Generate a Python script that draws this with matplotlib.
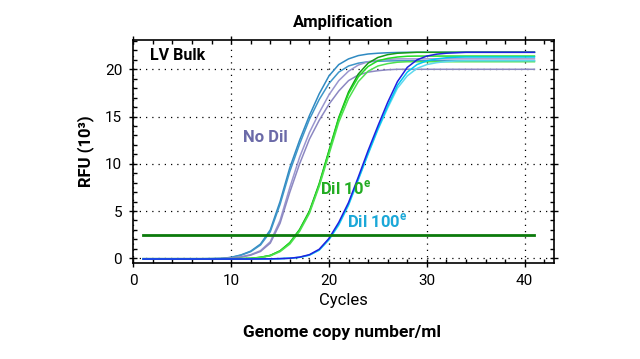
import matplotlib
matplotlib.use("Agg")
import matplotlib.pyplot as plt
from matplotlib.ticker import MultipleLocator

plt.rcParams['font.family'] = ['Roboto', 'DejaVu Sans']
plt.rcParams['mathtext.fontset'] = 'custom'
plt.rcParams['mathtext.rm'] = 'Roboto'
plt.rcParams['mathtext.bf'] = 'Roboto:bold'

cycles = list(range(1, 42))

# No Dil (steel blue / lavender)
nodil_blue_a = [-0.05, -0.05, -0.05, -0.05, -0.05, -0.05, -0.05, -0.04, -0.02, 0.1,
                0.35, 0.75, 1.5, 3.0, 6.0, 9.6, 12.5, 15.1, 17.4, 19.3,
                20.5, 21.1, 21.45, 21.62, 21.7, 21.75, 21.78, 21.8, 21.8, 21.8,
                21.8, 21.8, 21.8, 21.8, 21.8, 21.8, 21.8, 21.8, 21.8, 21.8, 21.8]
nodil_blue_b = [-0.05, -0.05, -0.05, -0.05, -0.05, -0.05, -0.05, -0.04, -0.02, 0.08,
                0.32, 0.7, 1.4, 2.8, 5.7, 9.2, 12.1, 14.7, 16.8, 18.5,
                19.7, 20.35, 20.65, 20.8, 20.85, 20.88, 20.9, 20.9, 20.9, 20.9,
                20.9, 20.9, 20.9, 20.9, 20.9, 20.9, 20.9, 20.9, 20.9, 20.9, 20.9]
nodil_lav_a = [-0.05, -0.05, -0.05, -0.05, -0.05, -0.05, -0.05, -0.05, -0.04, 0.02,
               0.15, 0.38, 0.8, 1.75, 4.0, 7.5, 10.7, 13.3, 15.4, 17.3,
               18.8, 19.8, 20.45, 20.8, 20.95, 21.05, 21.1, 21.1, 21.1, 21.1,
               21.1, 21.1, 21.1, 21.1, 21.1, 21.1, 21.1, 21.1, 21.1, 21.1, 21.1]
nodil_lav_b = [-0.05, -0.05, -0.05, -0.05, -0.05, -0.05, -0.05, -0.05, -0.04, 0.02,
               0.12, 0.33, 0.72, 1.6, 3.7, 7.0, 10.0, 12.6, 14.6, 16.3,
               17.7, 18.8, 19.4, 19.7, 19.85, 19.95, 20.0, 20.0, 20.0, 20.0,
               20.0, 20.0, 20.0, 20.0, 20.0, 20.0, 20.0, 20.0, 20.0, 20.0, 20.0]

# Dil 10e (greens)
dil10_a = [-0.05, -0.05, -0.05, -0.05, -0.05, -0.05, -0.05, -0.05, -0.05, -0.05,
           -0.04, -0.01, 0.1, 0.3, 0.78, 1.65, 3.05, 5.0, 7.9, 11.4,
           14.9, 17.6, 19.5, 20.65, 21.25, 21.55, 21.7, 21.75, 21.8, 21.8,
           21.8, 21.8, 21.8, 21.8, 21.8, 21.8, 21.8, 21.8, 21.8, 21.8, 21.8]
dil10_b = [-0.05, -0.05, -0.05, -0.05, -0.05, -0.05, -0.05, -0.05, -0.05, -0.05,
           -0.04, -0.01, 0.1, 0.3, 0.78, 1.65, 3.0, 4.9, 7.8, 11.3,
           14.8, 17.4, 19.2, 20.3, 20.9, 21.15, 21.3, 21.38, 21.4, 21.4,
           21.4, 21.4, 21.4, 21.4, 21.4, 21.4, 21.4, 21.4, 21.4, 21.4, 21.4]
dil10_c = [-0.05, -0.05, -0.05, -0.05, -0.05, -0.05, -0.05, -0.05, -0.05, -0.05,
           -0.04, -0.02, 0.08, 0.25, 0.7, 1.5, 2.85, 4.75, 7.6, 11.0,
           14.4, 16.9, 18.7, 19.8, 20.35, 20.6, 20.75, 20.8, 20.8, 20.8,
           20.8, 20.8, 20.8, 20.8, 20.8, 20.8, 20.8, 20.8, 20.8, 20.8, 20.8]

# Dil 100e (blue / cyans)
dil100_a = [-0.08, -0.08, -0.08, -0.08, -0.08, -0.08, -0.08, -0.08, -0.08, -0.08,
            -0.08, -0.08, -0.07, -0.06, -0.04, 0.0, 0.12, 0.38, 0.95, 2.1,
            3.8, 5.9, 8.6, 11.4, 14.0, 16.5, 18.7, 20.2, 21.0, 21.4,
            21.6, 21.7, 21.75, 21.8, 21.8, 21.8, 21.8, 21.8, 21.8, 21.8, 21.8]
dil100_b = [-0.08, -0.08, -0.08, -0.08, -0.08, -0.08, -0.08, -0.08, -0.08, -0.08,
            -0.08, -0.08, -0.07, -0.06, -0.04, 0.0, 0.1, 0.34, 0.88, 2.0,
            3.6, 5.7, 8.4, 11.1, 13.7, 16.1, 18.3, 19.7, 20.5, 20.9,
            21.1, 21.22, 21.28, 21.3, 21.3, 21.3, 21.3, 21.3, 21.3, 21.3, 21.3]
dil100_c = [-0.08, -0.08, -0.08, -0.08, -0.08, -0.08, -0.08, -0.08, -0.08, -0.08,
            -0.08, -0.08, -0.07, -0.06, -0.04, 0.0, 0.1, 0.32, 0.85, 1.95,
            3.5, 5.6, 8.3, 11.0, 13.6, 15.9, 18.0, 19.3, 20.1, 20.5,
            20.7, 20.82, 20.88, 20.9, 20.9, 20.9, 20.9, 20.9, 20.9, 20.9, 20.9]

threshold = 2.5

series = [
    (nodil_blue_a, '#2f8ac2'),
    (nodil_blue_b, '#3f95c8'),
    (nodil_lav_a, '#9a96cf'),
    (nodil_lav_b, '#8c88c2'),
    (dil10_a, '#169c16'),
    (dil10_b, '#22dd22'),
    (dil10_c, '#4fe04f'),
    (dil100_c, '#5fd8ee'),
    (dil100_b, '#00c8f0'),
    (dil100_a, '#2020e0'),
]

fig = plt.figure(figsize=(6.4, 3.59), dpi=100)
ax = fig.add_axes([133.3 / 640, 1 - 262.7 / 359, (554 - 133.3) / 640, (262.7 - 40) / 359])

for vals, col in series:
    ax.plot(cycles, vals, color=col, lw=1.1, zorder=3, solid_joinstyle='round')

ax.plot([cycles[0], cycles[-1]], [threshold, threshold], color='#0b7a0b', lw=2, zorder=4)

ax.set_xlim(0, 43)
ax.set_ylim(-0.47, 23.1)
ax.xaxis.set_major_locator(MultipleLocator(10))
ax.xaxis.set_minor_locator(MultipleLocator(2))
ax.yaxis.set_major_locator(MultipleLocator(5))
ax.yaxis.set_minor_locator(MultipleLocator(1))
ax.tick_params(which='major', direction='inout', length=6, width=1, labelsize=11,
               top=True, right=True, pad=5)
ax.tick_params(which='minor', direction='in', length=3, width=1, top=True, right=True)
for s in ax.spines.values():
    s.set_linewidth(1.2)

ax.grid(True, which='major', color='black', linestyle=(0, (1, 4)), lw=0.9)

ax.set_title('Amplification', fontsize=12, fontweight='bold', pad=9)
ax.set_xlabel('Cycles', fontsize=12, labelpad=4)
ax.set_ylabel('RFU (10³)', fontsize=12, fontweight='bold', labelpad=8)

ax.text(1.7, 21.5, 'LV Bulk', fontsize=11.5, fontweight='bold', color='black',
        va='center', ha='left', zorder=5)
ax.text(13.5, 12.8, 'No Dil', fontsize=12, fontweight='bold', color='#6b6aa8',
        va='center', ha='center', zorder=5)
ax.text(19.1, 7.4, r'Dil 10$^{\mathbf{e}}$', fontsize=12, fontweight='bold',
        color='#22ac22', va='center', ha='left', zorder=5)
ax.text(21.8, 3.95, r'Dil 100$^{\mathbf{e}}$', fontsize=12, fontweight='bold',
        color='#1ba8d8', va='center', ha='left', zorder=5)

fig.text(342 / 640, 1 - 333 / 359, 'Genome copy number/ml', fontsize=12.5,
         fontweight='bold', ha='center', va='center')

fig.savefig('out.png', dpi=100)
